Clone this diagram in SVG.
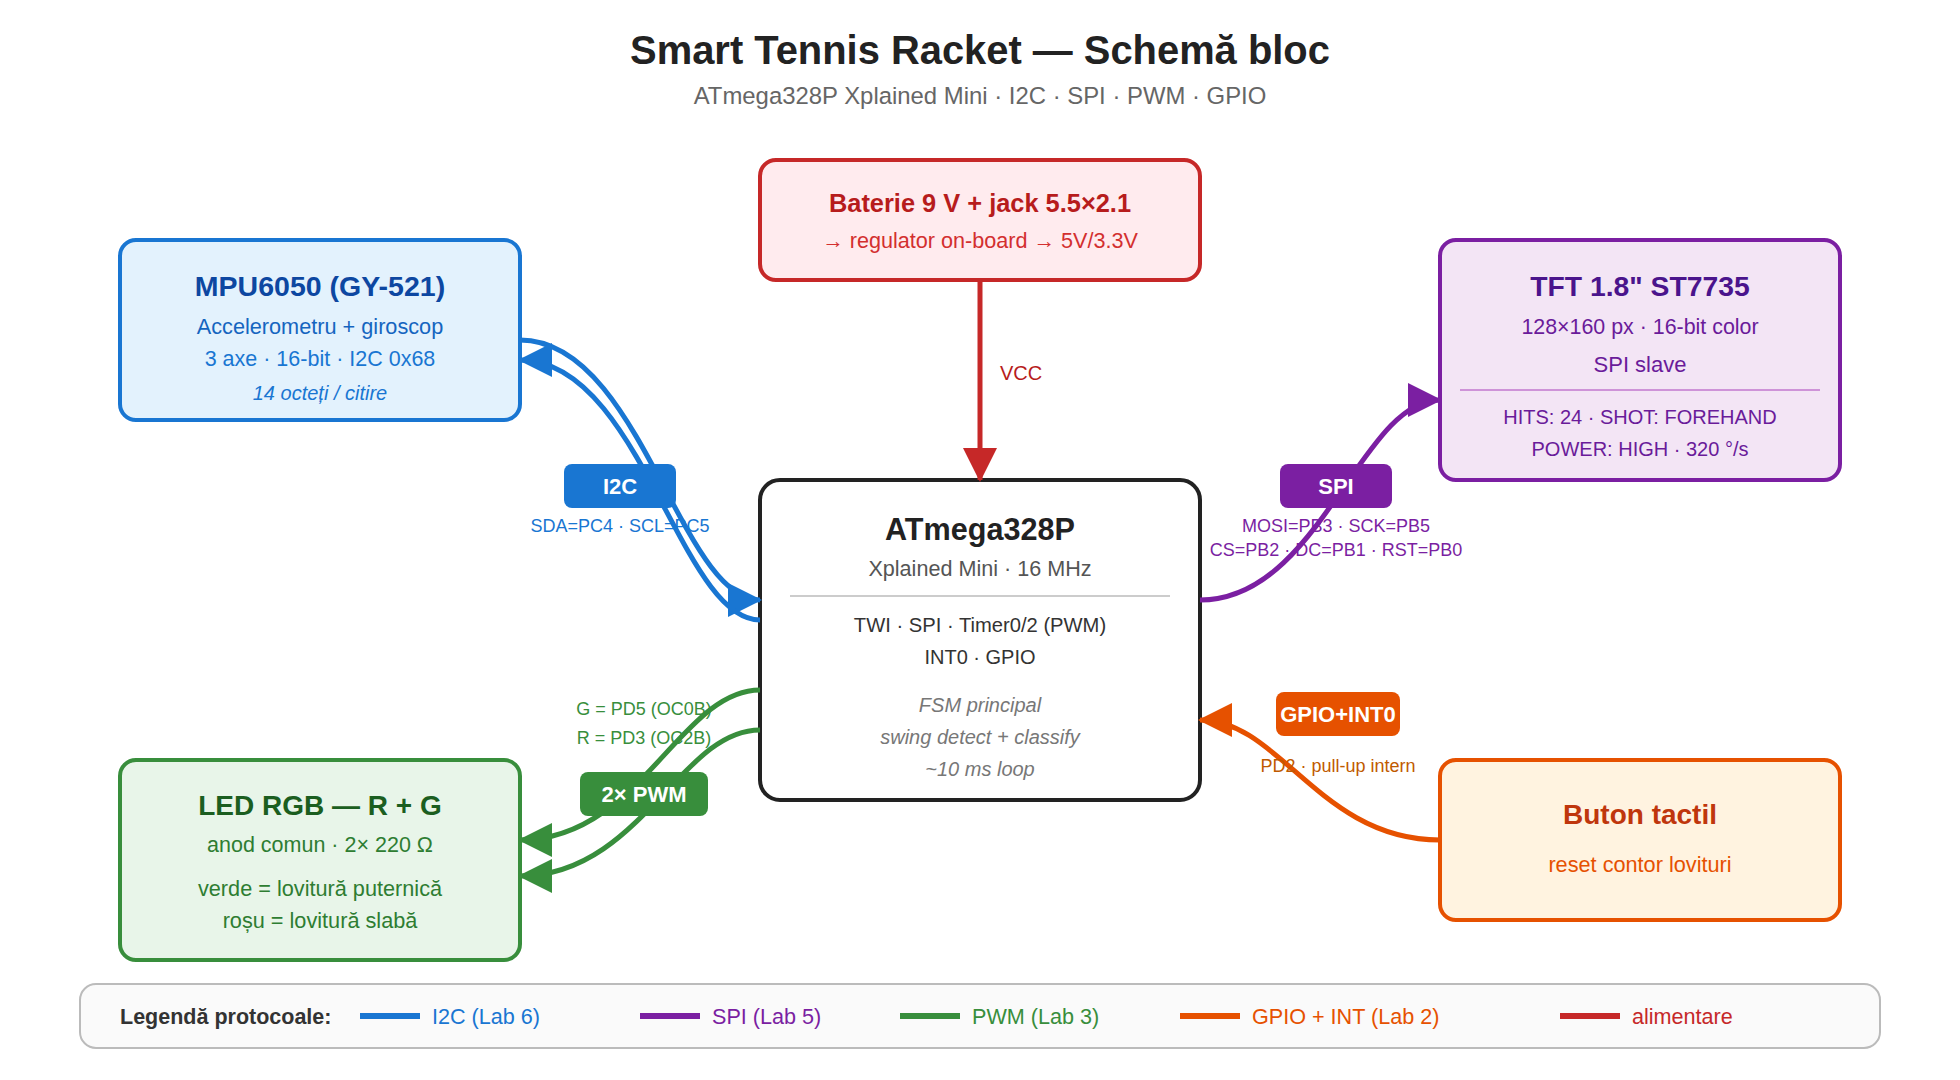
<svg xmlns="http://www.w3.org/2000/svg" width="1960" height="1080" viewBox="0 0 1960 1080">
<defs>
<marker id="aI" markerUnits="userSpaceOnUse" markerWidth="36" markerHeight="36" refX="32" refY="17" orient="auto"><path d="M0,0L34,17L0,34z" fill="#1976d2"/></marker>
<marker id="aS" markerUnits="userSpaceOnUse" markerWidth="36" markerHeight="36" refX="32" refY="17" orient="auto"><path d="M0,0L34,17L0,34z" fill="#7b1fa2"/></marker>
<marker id="aP" markerUnits="userSpaceOnUse" markerWidth="36" markerHeight="36" refX="32" refY="17" orient="auto"><path d="M0,0L34,17L0,34z" fill="#388e3c"/></marker>
<marker id="aG" markerUnits="userSpaceOnUse" markerWidth="36" markerHeight="36" refX="32" refY="17" orient="auto"><path d="M0,0L34,17L0,34z" fill="#e65100"/></marker>
<marker id="aV" markerUnits="userSpaceOnUse" markerWidth="36" markerHeight="36" refX="32" refY="17" orient="auto"><path d="M0,0L34,17L0,34z" fill="#c62828"/></marker>
</defs>
<style>
text{font-family:"Liberation Sans",Arial,sans-serif;text-anchor:middle}
.box{stroke-width:4}
.c{fill:none;stroke-width:5}
.t{font-size:28px;font-weight:700}
.b{font-size:21.7px}
.m{font-size:20px}
.i{font-style:italic}
.s{font-size:18px}
.bt{font-size:22px;font-weight:700;fill:#fff}
.l{font-size:21.6px;text-anchor:start}
.ll{stroke-width:6}
</style>
<rect width="1960" height="1080" fill="#fff"/>
<g id="title">
<text x="980" y="64" font-size="39.9" font-weight="700" fill="#222">Smart Tennis Racket — Schemă bloc</text>
<text x="980" y="104" font-size="23.9" fill="#666">ATmega328P Xplained Mini · I2C · SPI · PWM · GPIO</text>
</g>
<g id="mpu">
<rect class="box" x="120" y="240" width="400" height="180" rx="16" fill="#e3f2fd" stroke="#1976d2"/>
<text x="320" y="296" font-size="28.5" font-weight="700" fill="#0d47a1">MPU6050 (GY-521)</text>
<text class="b" x="320" y="334" fill="#1565c0">Accelerometru + giroscop</text>
<text x="320" y="366" font-size="21.5" fill="#1976d2">3 axe · 16-bit · I2C 0x68</text>
<text class="m i" x="320" y="400" fill="#1976d2">14 octeți / citire</text>
</g>
<g id="battery">
<rect class="box" x="760" y="160" width="440" height="120" rx="16" fill="#ffebee" stroke="#c62828"/>
<text x="980" y="212" font-size="25.4" font-weight="700" fill="#b71c1c">Baterie 9 V + jack 5.5×2.1</text>
<text x="980" y="248" font-size="21.6" fill="#d32f2f">→ regulator on-board → 5V/3.3V</text>
</g>
<g id="tft">
<rect class="box" x="1440" y="240" width="400" height="240" rx="16" fill="#f3e5f5" stroke="#7b1fa2"/>
<text x="1640" y="296" font-size="28.3" font-weight="700" fill="#4a148c">TFT 1.8" ST7735</text>
<text x="1640" y="334" font-size="21.4" fill="#6a1b9a">128×160 px · 16-bit color</text>
<text x="1640" y="372" font-size="22" fill="#6a1b9a">SPI slave</text>
<line x1="1460" y1="390" x2="1820" y2="390" stroke="#ce93d8" stroke-width="2"/>
<text class="m" x="1640" y="424" fill="#6a1b9a">HITS: 24 · SHOT: FOREHAND</text>
<text class="m" x="1640" y="456" fill="#6a1b9a">POWER: HIGH · 320 °/s</text>
</g>
<g id="atmega">
<rect class="box" x="760" y="480" width="440" height="320" rx="20" fill="#fff" stroke="#222"/>
<text x="980" y="540" font-size="30.6" font-weight="700" fill="#222">ATmega328P</text>
<text x="980" y="576" font-size="21.6" fill="#555">Xplained Mini · 16 MHz</text>
<line x1="790" y1="596" x2="1170" y2="596" stroke="#ccc" stroke-width="2"/>
<text x="980" y="632" font-size="20.2" fill="#333">TWI · SPI · Timer0/2 (PWM)</text>
<text class="m" x="980" y="664" fill="#333">INT0 · GPIO</text>
<text class="m i" x="980" y="712" fill="#777">FSM principal</text>
<text class="m i" x="980" y="744" fill="#777">swing detect + classify</text>
<text class="m i" x="980" y="776" fill="#777">~10 ms loop</text>
</g>
<g id="led">
<rect class="box" x="120" y="760" width="400" height="200" rx="16" fill="#e8f5e9" stroke="#388e3c"/>
<text class="t" x="320" y="815" fill="#1b5e20">LED RGB — R + G</text>
<text x="320" y="852" font-size="21.5" fill="#2e7d32">anod comun · 2× 220 Ω</text>
<text class="b" x="320" y="896" fill="#2e7d32">verde = lovitură puternică</text>
<text class="b" x="320" y="928" fill="#2e7d32">roșu = lovitură slabă</text>
</g>
<g id="button">
<rect class="box" x="1440" y="760" width="400" height="160" rx="16" fill="#fff3e0" stroke="#e65100"/>
<text class="t" x="1640" y="824" fill="#bf360c">Buton tactil</text>
<text class="b" x="1640" y="872" fill="#e65100">reset contor lovituri</text>
</g>
<g id="connectors">
<path class="c" stroke="#c62828" d="M980 280L980 480" marker-end="url(#aV)"/>
<path class="c" stroke="#1976d2" d="M520 340C640 340 680 600 760 600" marker-end="url(#aI)"/>
<path class="c" stroke="#1976d2" d="M760 620C680 620 640 360 520 360" marker-end="url(#aI)"/>
<path class="c" stroke="#7b1fa2" d="M1200 600C1320 600 1360 400 1440 400" marker-end="url(#aS)"/>
<path class="c" stroke="#388e3c" d="M760 690C680 690 640 840 520 840" marker-end="url(#aP)"/>
<path class="c" stroke="#388e3c" d="M760 730C680 730 640 876 520 876" marker-end="url(#aP)"/>
<path class="c" stroke="#e65100" d="M1440 840C1320 840 1280 720 1200 720" marker-end="url(#aG)"/>
</g>
<g id="labels">
<text x="1000" y="380" font-size="20" fill="#b71c1c" style="text-anchor:start">VCC</text>
<rect x="564" y="464" width="112" height="44" rx="8" fill="#1976d2"/>
<text class="bt" x="620" y="494">I2C</text>
<text class="s" x="620" y="532" fill="#1976d2">SDA=PC4 · SCL=PC5</text>
<rect x="1280" y="464" width="112" height="44" rx="8" fill="#7b1fa2"/>
<text class="bt" x="1336" y="494">SPI</text>
<text class="s" x="1336" y="532" fill="#7b1fa2">MOSI=PB3 · SCK=PB5</text>
<text class="s" x="1336" y="556" fill="#7b1fa2">CS=PB2 · DC=PB1 · RST=PB0</text>
<rect x="580" y="772" width="128" height="44" rx="8" fill="#388e3c"/>
<text class="bt" x="644" y="802">2× PWM</text>
<text class="s" x="644" y="715" fill="#388e3c">G = PD5 (OC0B)</text>
<text class="s" x="644" y="744" fill="#388e3c">R = PD3 (OC2B)</text>
<rect x="1276" y="692" width="124" height="44" rx="8" fill="#e65100"/>
<text class="bt" x="1338" y="722">GPIO+INT0</text>
<text class="s" x="1338" y="772" fill="#bf5a00">PD2 · pull-up intern</text>
</g>
<g id="legend">
<rect x="80" y="984" width="1800" height="64" rx="16" fill="#fafafa" stroke="#bbb" stroke-width="2"/>
<text x="120" y="1024" font-size="21.5" font-weight="700" fill="#333" style="text-anchor:start">Legendă protocoale:</text>
<line class="ll" x1="360" y1="1016" x2="420" y2="1016" stroke="#1976d2"/>
<text class="l" x="432" y="1024" fill="#1976d2">I2C (Lab 6)</text>
<line class="ll" x1="640" y1="1016" x2="700" y2="1016" stroke="#7b1fa2"/>
<text class="l" x="712" y="1024" fill="#7b1fa2">SPI (Lab 5)</text>
<line class="ll" x1="900" y1="1016" x2="960" y2="1016" stroke="#388e3c"/>
<text class="l" x="972" y="1024" fill="#388e3c">PWM (Lab 3)</text>
<line class="ll" x1="1180" y1="1016" x2="1240" y2="1016" stroke="#e65100"/>
<text class="l" x="1252" y="1024" fill="#e65100">GPIO + INT (Lab 2)</text>
<line class="ll" x1="1560" y1="1016" x2="1620" y2="1016" stroke="#c62828"/>
<text class="l" x="1632" y="1024" fill="#c62828">alimentare</text>
</g>
</svg>
